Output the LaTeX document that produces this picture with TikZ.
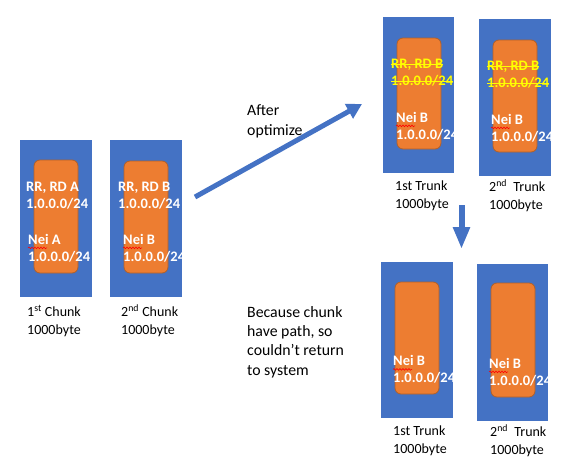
\documentclass[tikz,border=0pt]{standalone}
\usepackage{fontspec}
\setmainfont{Carlito}
\usepackage{tikz}
\usetikzlibrary{arrows.meta,positioning,decorations.pathmorphing}
\definecolor{boxblue}{HTML}{4472C4}
\definecolor{boxorange}{HTML}{ED7D31}
\definecolor{orangeline}{HTML}{B0602A}
\definecolor{markyellow}{HTML}{FFFF00}
\newcommand\strikeword[1]{\setbox0\hbox{#1}\rlap{\rule[3.8pt]{\wd0}{1.3pt}}\box0\relax}

\begin{document}
\begin{tikzpicture}[x=1pt,y=-1pt,
    bluebox/.style={fill=boxblue,draw=none},
    orangebox/.style={fill=boxorange,draw=orangeline,line width=0.8pt,rounded corners=6pt},
    routetext/.style={anchor=west,align=left,inner sep=0pt,text=white,font=\fontsize{14.5}{17}\selectfont\bfseries},
    struckroute/.style={routetext,text=markyellow},
    chunklabel/.style={anchor=west,align=left,inner sep=0pt,font=\fontsize{14}{18}\selectfont},
    notetext/.style={anchor=west,align=left,inner sep=0pt,font=\fontsize{15.8}{19.3}\selectfont},
    spellline/.style={draw=red,line width=0.6pt,decorate,decoration={snake,segment length=3pt,amplitude=0.8pt}},
    flowarrow/.style={draw=boxblue,line width=5pt,-{Triangle[width=16pt,length=15pt]}}]
  \useasboundingbox (0,0) rectangle (567,461);
  % First chunk
  \draw[bluebox] (20,140) rectangle (92,297);
  \draw[orangebox] (34,160) rectangle (78,273);
  \node[routetext] (rrA) at (26,196) {RR, RD A\\1.0.0.0/24};
  \node[routetext] (neiA) at (28,248) {Nei A\\1.0.0.0/24};
  \draw[spellline] ([yshift=-14pt]neiA.north west) -- ++(19,0);
  \node[chunklabel] (chunkA) at (27,321) {1\textsuperscript{st} Chunk\\1000byte};
  % Second chunk
  \draw[bluebox] (110,140) rectangle (182,297);
  \draw[orangebox] (124,161) rectangle (168,273);
  \node[routetext] (rrB) at (118,196) {RR, RD B\\1.0.0.0/24};
  \node[routetext] (neiB) at (123,248) {Nei B\\1.0.0.0/24};
  \draw[spellline] ([yshift=-14pt]neiB.north west) -- ++(19,0);
  \node[chunklabel] (chunkB) at (121,321) {2\textsuperscript{nd} Chunk\\1000byte};
  % After optimize
  \coordinate (optstart) at (195,197);
  \coordinate (optend) at (362,104);
  \draw[flowarrow] (optstart) -- (optend);
  \node[notetext] (optnote) at (247,121.5) {After\\optimize};
  % First trunk, after optimize
  \draw[bluebox] (383,17) rectangle (454,173);
  \draw[orangebox] (397,38) rectangle (441,149);
  \node[struckroute] (rrtopA) at (391,73) {\strikeword{RR, RD B}\\\strikeword{1.0.0.0/24}};
  \node[routetext] (neitopA) at (396,126) {Nei B\\1.0.0.0/24};
  \draw[spellline] ([yshift=-14pt]neitopA.north west) -- ++(19,0);
  \node[chunklabel] (trunktopA) at (395,195.5) {1st Trunk\\1000byte};
  % Second trunk, after optimize
  \draw[bluebox] (479,19) rectangle (551,176);
  \draw[orangebox] (493,40) rectangle (537,152);
  \node[struckroute] (rrtopB) at (487,75) {\strikeword{RR, RD B}\\\strikeword{1.0.0.0/24}};
  \node[routetext] (neitopB) at (491,128) {Nei B\\1.0.0.0/24};
  \draw[spellline] ([yshift=-14pt]neitopB.north west) -- ++(19,0);
  \node[chunklabel] (trunktopB) at (489,195.5) {2\textsuperscript{nd}\ \ Trunk\\1000byte};
  % Down arrow
  \coordinate (downstart) at (461.5,205);
  \coordinate (downend) at (461.5,249);
  \draw[flowarrow,line width=6pt,-{Triangle[width=16pt,length=22pt]}] (downstart) -- (downend);
  \node[notetext] (pathnote) at (247,342) {Because chunk\\have path, so\\couldn’t return\\to system};
  % First trunk, path kept
  \draw[bluebox] (381,262) rectangle (453,418);
  \draw[orangebox] (395,282) rectangle (439,394);
  \node[routetext] (neibotA) at (393,369.5) {Nei B\\1.0.0.0/24};
  \draw[spellline] ([yshift=-14pt]neibotA.north west) -- ++(19,0);
  \node[chunklabel] (trunkbotA) at (393,440.5) {1st Trunk\\1000byte};
  % Second trunk, path kept
  \draw[bluebox] (477,264) rectangle (548,421);
  \draw[orangebox] (491,283) rectangle (535,397);
  \node[routetext] (neibotB) at (489,372) {Nei B\\1.0.0.0/24};
  \draw[spellline] ([yshift=-14pt]neibotB.north west) -- ++(19,0);
  \node[chunklabel] (trunkbotB) at (490,440.5) {2\textsuperscript{nd}\ \ Trunk\\1000byte};
\end{tikzpicture}
\end{document}
